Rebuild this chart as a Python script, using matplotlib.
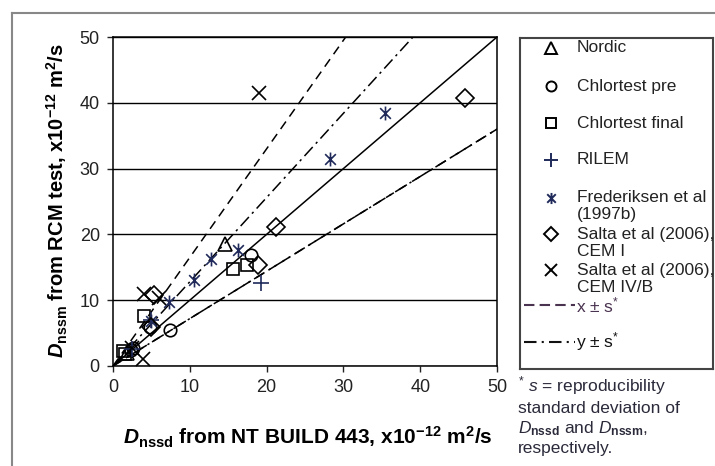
import numpy as np
import matplotlib.pyplot as plt
from matplotlib.path import Path
from matplotlib.lines import Line2D

plt.rcParams['font.family'] = ['Liberation Sans', 'DejaVu Sans']
plt.rcParams['mathtext.fontset'] = 'custom'
plt.rcParams['mathtext.rm'] = 'Liberation Sans'
plt.rcParams['mathtext.it'] = 'Liberation Sans:italic'
plt.rcParams['mathtext.bf'] = 'Liberation Sans:bold'
plt.rcParams['mathtext.bfit'] = 'Liberation Sans:bold:italic'

# Dnssd (NT BUILD 443) vs Dnssm (RCM), x10^-12 m2/s
nordic_x = [14.6, 1.8]
nordic_y = [18.6, 1.9]
pre_x = [18.0, 7.4, 4.8, 2.3, 2.6]
pre_y = [16.9, 5.5, 5.9, 2.4, 2.7]
final_x = [15.6, 17.5, 4.1, 1.3, 1.6]
final_y = [14.7, 15.4, 7.6, 2.3, 1.8]
rilem_x = [19.3, 5.0, 2.5]
rilem_y = [12.6, 7.0, 2.6]
fred_x = [35.4, 28.3, 12.8, 10.5, 7.3, 16.3, 5.0]
fred_y = [38.5, 31.4, 16.3, 13.0, 9.8, 17.6, 6.8]
salta1_x = [45.8, 21.2, 18.9, 5.3, 5.0]
salta1_y = [40.8, 21.1, 15.4, 10.8, 6.0]
salta4_x = [19.0, 4.0, 3.9, 6.0, 2.5]
salta4_y = [41.5, 10.9, 1.1, 10.3, 2.8]

# slopes of the y = x +/- s bounds
x_s_slopes = [1.65, 0.72]
y_s_slopes = [1.28, 0.72]

ticks = [0, 10, 20, 30, 40, 50]

star = Path([(-1, -1), (1, 1), (-1, 1), (1, -1), (0, -1.3), (0, 1.3)],
            [Path.MOVETO, Path.LINETO] * 3)
navy = '#1f2a5a'

series = [
    ('Nordic', nordic_x, nordic_y, dict(marker='^', ms=10, mfc='none', mec='k')),
    ('Chlortest pre', pre_x, pre_y, dict(marker='o', ms=9, mfc='none', mec='k')),
    ('Chlortest final', final_x, final_y, dict(marker='s', ms=9, mfc='none', mec='k')),
    ('RILEM', rilem_x, rilem_y, dict(marker='+', ms=12, mec=navy)),
    ('Frederiksen et al\n(1997b)', fred_x, fred_y, dict(marker=star, ms=10, mec=navy)),
    ('Salta et al (2006),\nCEM I', salta1_x, salta1_y, dict(marker='D', ms=9, mfc='none', mec='k')),
    ('Salta et al (2006),\nCEM IV/B', salta4_x, salta4_y, dict(marker='x', ms=10, mec='k')),
]

W, H = 715, 466
fig = plt.figure(figsize=(W / 100, H / 100), dpi=100)

ax = fig.add_axes([113 / W, 1 - 366 / H, 384 / W, 329 / H])
xs = np.array([0, 50])
ax.plot(xs, xs, color='k', lw=1.1)
for k in x_s_slopes:
    ax.plot(xs, k * xs, color='k', lw=1.1, ls=(0, (6, 4)))
for k in y_s_slopes:
    ax.plot(xs, k * xs, color='k', lw=1.1, ls=(0, (8, 3, 1.5, 3)))

for label, x, y, st in series:
    ax.plot(x, y, ls='none', mew=1.2, **st)

ax.set_xlim(0, 50)
ax.set_ylim(0, 50)
ax.set_xticks(ticks)
ax.set_yticks(ticks)
ax.yaxis.grid(True, color='k', lw=1.0)
ax.set_axisbelow(True)
ax.tick_params(direction='out', length=4.5, width=1, labelsize=13, pad=5, colors='#222')
for sp in ax.spines.values():
    sp.set_linewidth(1.1)

fig.text(308 / W, 1 - 437 / H,
         r'$\mathbfit{D}_{\mathbf{nssd}}$ from NT BUILD 443, x10$^{\mathbf{-12}}$ m$^{\mathbf{2}}$/s',
         ha='center', va='center', fontsize=15, fontweight='bold')
fig.text(57 / W, 1 - 201 / H,
         r'$\mathbfit{D}_{\mathbf{nssm}}$ from RCM test, x10$^{\mathbf{-12}}$ m$^{\mathbf{2}}$/s',
         ha='center', va='center', rotation=90, fontsize=14.5, fontweight='bold')

# legend drawn in its own pixel-coordinate axes
lg = fig.add_axes([520 / W, 1 - 369 / H, 193 / W, 331 / H])
lg.set_xlim(520, 713)
lg.set_ylim(369, 38)
lg.set_xticks([])
lg.set_yticks([])
for sp in lg.spines.values():
    sp.set_color('#444')
    sp.set_linewidth(1.5)

rows = [48, 86, 123, 160, 198, 234, 270]
for (label, x, y, st), ry in zip(series, rows):
    lg.plot([551], [ry], ls='none', mew=1.4, **{**st, 'ms': st['ms'] * 0.8})
    for i, ln in enumerate(label.split('\n')):
        lg.text(577, ry + 17 * i, ln, ha='left', va='center', fontsize=12.5, color='#222')

lg.plot([524, 575], [305, 305], color='#4a3350', lw=1.5, ls=(0, (5, 2.5)))
lg.text(576, 305, r'x $\pm$ s$^{*}$', ha='left', va='center', fontsize=12.5, color='#4a3350')
lg.plot([524, 575], [342, 342], color='#111', lw=1.5, ls=(0, (6, 2.5, 1, 2.5)))
lg.text(576, 342, r'y $\pm$ s$^{*}$', ha='left', va='center', fontsize=12.5, color='#111')

foot = [r'$^{*}$ $s$ = reproducibility',
        'standard deviation of',
        r'$D_{\mathbf{nssd}}$ and $D_{\mathbf{nssm}}$,',
        'respectively.']
for ln, by in zip(foot, [391, 413, 433, 453]):
    fig.text(518 / W, 1 - by / H, ln, ha='left', va='baseline', fontsize=12.5, color='#2a2a3a')

# outer frame
fig.add_artist(Line2D([12 / W, 12 / W], [0, 1 - 13 / H], color='#888', lw=1.5))
fig.add_artist(Line2D([12 / W, 1], [1 - 13 / H, 1 - 13 / H], color='#888', lw=1.5))

fig.savefig('out.png', dpi=100)
